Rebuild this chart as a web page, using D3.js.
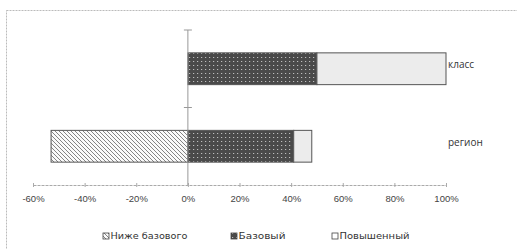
<!DOCTYPE html>
<html>
<head>
<meta charset="utf-8">
<script src="https://cdn.jsdelivr.net/npm/d3@7"></script>
<style>
  body { margin: 0; background: #fff; }
  svg { display: block; font-family: "Open Sans", "DejaVu Sans", sans-serif; }
</style>
</head>
<body>
<svg id="chart" width="517" height="249"></svg>
<script>
// data
const categories = ["класс", "регион"];
const seriesNames = ["Ниже базового", "Базовый", "Повышенный"];
const belowBase = [0, -53];
const baseLevel = [50, 41];
const highLevel = [50, 7];
const tickValues = [-60, -40, -20, 0, 20, 40, 60, 80, 100];

const svg = d3.select("#chart");
const defs = svg.append("defs");

// hatch for "Ниже базового"
const hatch = defs.append("pattern")
    .attr("id", "hatch")
    .attr("patternUnits", "userSpaceOnUse")
    .attr("width", 4).attr("height", 4);
hatch.append("rect").attr("width", 4).attr("height", 4).attr("fill", "#fafafa");
hatch.append("path")
    .attr("d", "M-1,-1 L5,5 M-1,3 L1,5 M3,-1 L5,1")
    .attr("stroke", "#777").attr("stroke-width", 0.9);

// dotted dark fill for "Базовый"
const dots = defs.append("pattern")
    .attr("id", "dots")
    .attr("patternUnits", "userSpaceOnUse")
    .attr("width", 4).attr("height", 4);
dots.append("rect").attr("width", 4).attr("height", 4).attr("fill", "#4a4a4a");
dots.append("rect").attr("x", 1).attr("y", 1).attr("width", 1.2).attr("height", 1)
    .attr("fill", "#bdbdbd");

const fills = ["url(#hatch)", "url(#dots)", "#ececec"];

// outer frame
svg.append("rect")
    .attr("x", 6.5).attr("y", 10.5)
    .attr("width", 540).attr("height", 260)
    .attr("fill", "none")
    .attr("stroke", "#bbb")
    .attr("stroke-dasharray", "2,1");

const x = d3.scaleLinear().domain([-60, 100]).range([33, 446]);
const y = d3.scaleBand().domain(categories).range([30, 185]).paddingInner(0.59).paddingOuter(0.295);

// stacked segments
const rows = categories.map((c, i) => {
    const segs = [];
    segs.push({ s: 0, x0: belowBase[i], x1: 0 });
    segs.push({ s: 1, x0: 0, x1: baseLevel[i] });
    segs.push({ s: 2, x0: baseLevel[i], x1: baseLevel[i] + highLevel[i] });
    return { cat: c, segs: segs.filter(d => d.x1 - d.x0 !== 0) };
});

const g = svg.append("g");
rows.forEach(r => {
    g.selectAll(null)
        .data(r.segs)
        .enter()
        .append("rect")
        .attr("x", d => x(d.x0))
        .attr("y", y(r.cat))
        .attr("width", d => x(d.x1) - x(d.x0))
        .attr("height", y.bandwidth())
        .attr("fill", d => fills[d.s])
        .attr("stroke", "#555")
        .attr("stroke-width", 1);
});

// x axis
const xAxis = svg.append("g")
    .attr("transform", "translate(0,185)")
    .call(d3.axisBottom(x).tickValues(tickValues).tickSize(0).tickPadding(10)
        .tickFormat(d => d + "%"));
xAxis.select(".domain").attr("stroke", "#aaa").attr("stroke-dasharray", "3,1");
xAxis.selectAll(".tick line").remove();
xAxis.selectAll(".tick").append("line")
    .attr("y1", -2).attr("y2", 2).attr("stroke", "#aaa");
xAxis.selectAll("text").attr("fill", "#444").attr("font-size", 9.5);

// vertical axis at 0
const yAxis = svg.append("g").attr("transform", `translate(${x(0)},0)`);
yAxis.append("line").attr("y1", 30).attr("y2", 185).attr("stroke", "#999");
yAxis.selectAll(null)
    .data([30, (30 + 185) / 2])
    .enter()
    .append("line")
    .attr("x1", -4).attr("x2", 4)
    .attr("y1", d => d).attr("y2", d => d)
    .attr("stroke", "#999");

// category labels
svg.selectAll(".cat")
    .data(categories)
    .enter()
    .append("text")
    .attr("x", 448)
    .attr("y", d => y(d) + y.bandwidth() / 2 - 4)
    .attr("dy", ".35em")
    .attr("fill", "#333")
    .attr("font-size", 10)
    .text(d => d);

// legend
const legendX = [103, 231, 332];
const leg = svg.selectAll(".leg")
    .data(seriesNames)
    .enter()
    .append("g")
    .attr("transform", (d, i) => `translate(${legendX[i]},236)`);
leg.append("rect")
    .attr("x", 0).attr("y", -3)
    .attr("width", 6).attr("height", 6)
    .attr("fill", (d, i) => i === 2 ? "#fff" : fills[i])
    .attr("stroke", "#444").attr("stroke-width", 0.8);
leg.append("text")
    .attr("x", 7.5)
    .attr("dy", ".35em")
    .attr("fill", "#333")
    .attr("font-family", "DejaVu Sans")
    .attr("font-size", 9)
    .attr("textLength", (d, i) => [77, 47, 70][i])
    .attr("lengthAdjust", "spacingAndGlyphs")
    .text(d => d);
</script>
</body>
</html>
